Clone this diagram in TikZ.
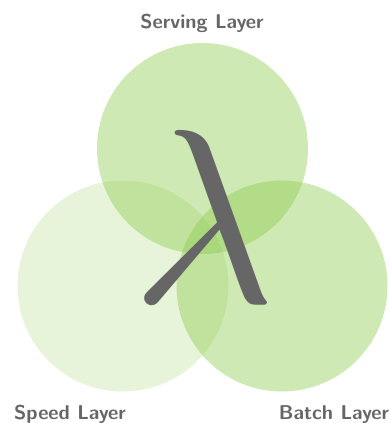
\documentclass[tikz,border=0pt]{standalone}
\usepackage{fontspec}
\definecolor{lgreen}{RGB}{135,200,68}
\definecolor{lgray}{RGB}{102,102,102}
\begin{document}
\begin{tikzpicture}[x=1pt,y=-1pt,
  layer/.style={circle,fill=lgreen,minimum size=211pt,inner sep=0pt},
  lbl/.style={font=\sffamily\bfseries\fontsize{20}{20}\selectfont,text=lgray,anchor=base,inner sep=0pt}]
\useasboundingbox (0,0) rectangle (390,423);
\node[layer,fill opacity=0.2] (speed) at (123,286) {};
\node[layer,fill opacity=0.4] (serving) at (202.5,148.5) {};
\node[layer,fill opacity=0.4] (batch) at (282,286) {};
\node[text=lgray,scale=24.8,inner sep=0pt] (lam) at (204,216) {$\lambda$};
\node[lbl] (tserving) at (202,28) {Serving Layer};
\node[lbl] (tspeed) at (70,419) {Speed Layer};
\node[lbl] (tbatch) at (334,419) {Batch Layer};
\end{tikzpicture}
\end{document}
